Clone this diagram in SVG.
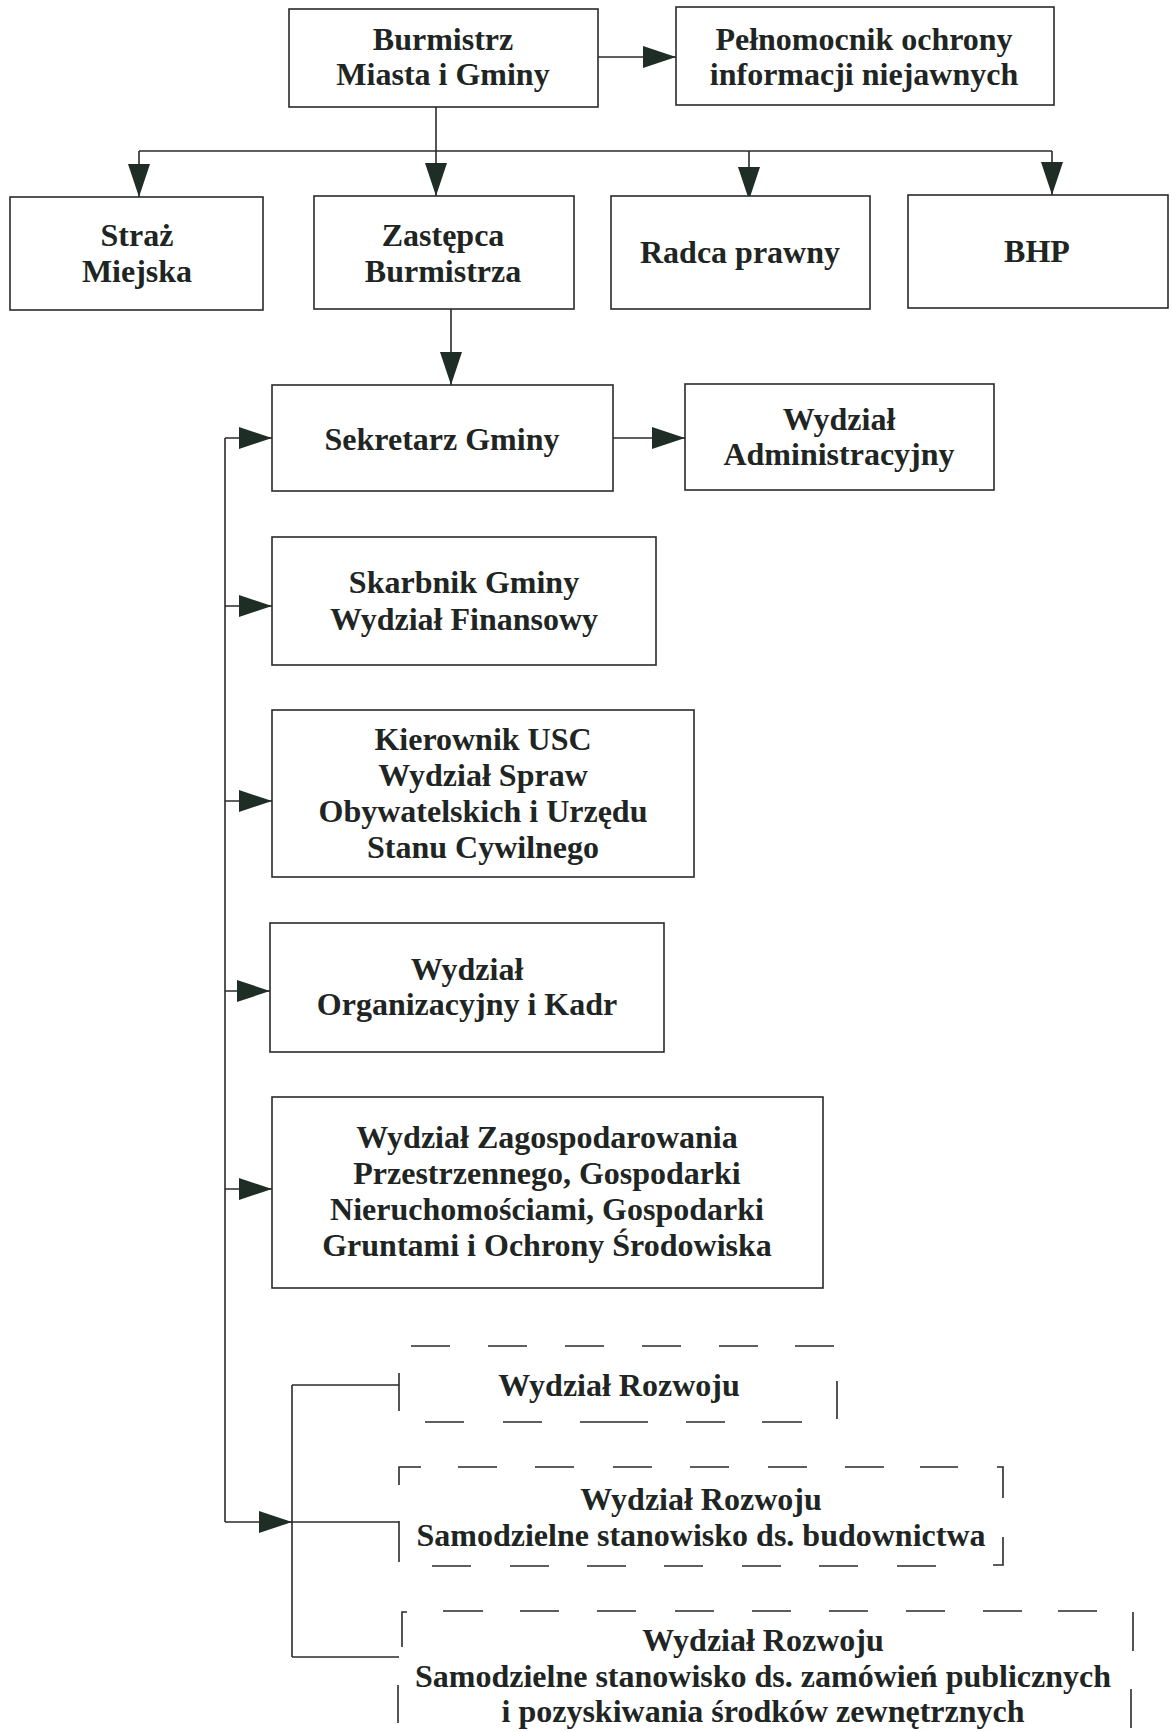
<svg xmlns="http://www.w3.org/2000/svg" width="1172" height="1732" viewBox="0 0 1172 1732">
<style>
.box{fill:#fff;stroke:#2a2a2a;stroke-width:1.6}
.ln{fill:none;stroke:#2a2a2a;stroke-width:1.6}
.dl{fill:none;stroke:#2a2a2a;stroke-width:1.6}
text{font-family:"Liberation Serif","Times New Roman",serif;font-weight:bold;font-size:32px;fill:#1e2522;text-anchor:middle}
</style>
<defs>
<marker id="ah" markerUnits="userSpaceOnUse" markerWidth="34" markerHeight="24" refX="33" refY="11" orient="auto">
<path d="M0,0 L33,11 L0,22 z" fill="#1f2d27"/>
</marker>
</defs>
<rect width="1172" height="1732" fill="#fff"/>

<g id="connectors">
<path class="ln" d="M598,57 H676" marker-end="url(#ah)"/>
<path class="ln" d="M436,107 V151"/>
<path class="ln" d="M139,151 H1052"/>
<path class="ln" d="M139,151 V197" marker-end="url(#ah)"/>
<path class="ln" d="M436,151 V196" marker-end="url(#ah)"/>
<path class="ln" d="M749,151 V200" marker-end="url(#ah)"/>
<path class="ln" d="M1052,151 V195" marker-end="url(#ah)"/>
<path class="ln" d="M451,309 V385" marker-end="url(#ah)"/>
<path class="ln" d="M613,438 H685" marker-end="url(#ah)"/>
<path class="ln" d="M225,438 V1522"/>
<path class="ln" d="M225,438 H272" marker-end="url(#ah)"/>
<path class="ln" d="M225,606 H272" marker-end="url(#ah)"/>
<path class="ln" d="M225,801 H272" marker-end="url(#ah)"/>
<path class="ln" d="M225,991 H270" marker-end="url(#ah)"/>
<path class="ln" d="M225,1189 H272" marker-end="url(#ah)"/>
<path class="ln" d="M225,1522 H292" marker-end="url(#ah)"/>
<path class="ln" d="M292,1385 V1657"/>
<path class="ln" d="M292,1385 H399"/>
<path class="ln" d="M292,1522 H399"/>
<path class="ln" d="M292,1657 H399"/>
</g>

<g id="burmistrz">
<rect class="box" x="289" y="9" width="309" height="98"/>
<text x="443" y="50">Burmistrz</text>
<text x="443" y="85">Miasta i Gminy</text>
</g>
<g id="pelnomocnik">
<rect class="box" x="676" y="7" width="378" height="98"/>
<text x="864" y="50">Pełnomocnik ochrony</text>
<text x="864" y="85">informacji niejawnych</text>
</g>
<g id="straz">
<rect class="box" x="10" y="197" width="253" height="113"/>
<text x="137" y="246">Straż</text>
<text x="137" y="282">Miejska</text>
</g>
<g id="zastepca">
<rect class="box" x="314" y="196" width="260" height="113"/>
<text x="443" y="246">Zastępca</text>
<text x="443" y="282">Burmistrza</text>
</g>
<g id="radca">
<rect class="box" x="611" y="196" width="259" height="113"/>
<text x="740" y="263">Radca prawny</text>
</g>
<g id="bhp">
<rect class="box" x="908" y="195" width="260" height="113"/>
<text x="1037" y="262">BHP</text>
</g>
<g id="sekretarz">
<rect class="box" x="272" y="385" width="341" height="106"/>
<text x="442" y="450">Sekretarz Gminy</text>
</g>
<g id="administracyjny">
<rect class="box" x="685" y="384" width="309" height="106"/>
<text x="839" y="430">Wydział</text>
<text x="839" y="465">Administracyjny</text>
</g>
<g id="skarbnik">
<rect class="box" x="272" y="537" width="384" height="128"/>
<text x="464" y="593">Skarbnik Gminy</text>
<text x="464" y="630">Wydział Finansowy</text>
</g>
<g id="kierownik">
<rect class="box" x="272" y="710" width="422" height="167"/>
<text x="483" y="750">Kierownik USC</text>
<text x="483" y="786">Wydział Spraw</text>
<text x="483" y="822">Obywatelskich i Urzędu</text>
<text x="483" y="858">Stanu Cywilnego</text>
</g>
<g id="organizacyjny">
<rect class="box" x="270" y="923" width="394" height="129"/>
<text x="467" y="980">Wydział</text>
<text x="467" y="1015">Organizacyjny i Kadr</text>
</g>
<g id="zagospodarowania">
<rect class="box" x="272" y="1097" width="551" height="191"/>
<text x="547" y="1148">Wydział Zagospodarowania</text>
<text x="547" y="1184">Przestrzennego, Gospodarki</text>
<text x="547" y="1220">Nieruchomościami, Gospodarki</text>
<text x="547" y="1256">Gruntami i Ochrony Środowiska</text>
</g>

<g id="rozwoju1">
<path class="dl" d="M411,1346 H450 M488,1346 H527 M565,1346 H604 M642,1346 H681 M719,1346 H758 M795,1346 H834"/>
<path class="dl" d="M399,1373 V1411"/>
<path class="dl" d="M837,1381 V1419"/>
<path class="dl" d="M425,1422 H464 M503,1422 H542 M580,1422 H648 M686,1422 H725 M762,1422 H802"/>
<text x="619" y="1396">Wydział Rozwoju</text>
</g>

<g id="rozwoju2">
<path class="dl" d="M399,1485 V1467 H421 M458,1467 H497 M535,1467 H574 M613,1467 H652 M690,1467 H729 M768,1467 H807 M845,1467 H884 M920,1467 H958 M997,1467 H1003 V1498"/>
<path class="dl" d="M399,1521 V1562"/>
<path class="dl" d="M1003,1537 V1565 H993"/>
<path class="dl" d="M432,1566 H471 M510,1566 H549 M587,1566 H626 M664,1566 H703 M742,1566 H781 M819,1566 H858 M897,1566 H936"/>
<text x="701" y="1510">Wydział Rozwoju</text>
<text x="701" y="1546">Samodzielne stanowisko ds. budownictwa</text>
</g>

<g id="rozwoju3">
<path class="dl" d="M402,1647 V1612 H407 M443,1611 H483 M520,1611 H559 M597,1611 H636 M675,1611 H714 M752,1611 H791 M829,1611 H868 M906,1611 H945 M983,1611 H1022 M1058,1611 H1097"/>
<path class="dl" d="M398,1685 V1723"/>
<path class="dl" d="M1133,1612 V1651"/>
<path class="dl" d="M1131,1689 V1728"/>
<text x="763" y="1651">Wydział Rozwoju</text>
<text x="763" y="1687">Samodzielne stanowisko ds. zamówień publicznych</text>
<text x="763" y="1722">i pozyskiwania środków zewnętrznych</text>
</g>
</svg>
